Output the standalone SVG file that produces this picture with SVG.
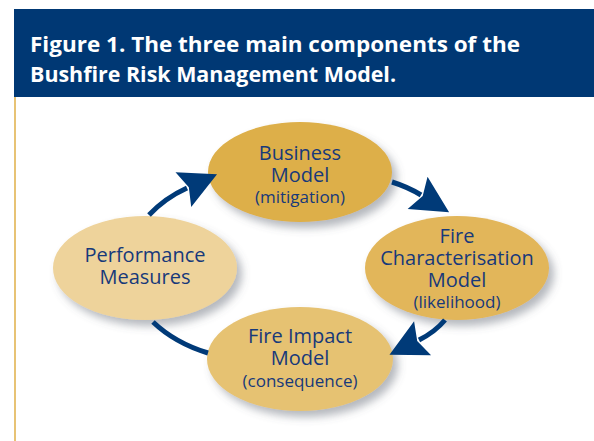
<svg xmlns="http://www.w3.org/2000/svg" width="594" height="441" viewBox="0 0 594 441">
<style>
.t{font-family:"Open Sans","Liberation Sans",sans-serif;fill:#17397A;text-anchor:middle}
.m{font-size:20px}
.s{font-size:17px}
.h{font-family:"Open Sans","Liberation Sans",sans-serif;font-weight:bold;font-size:22px;fill:#ffffff}
.c{fill:none;stroke:#003A78;stroke-width:5}
</style>
<defs>
<filter id="sh" x="-20%" y="-20%" width="150%" height="150%">
<feDropShadow dx="5" dy="6" stdDeviation="4" flood-color="#5a6470" flood-opacity="0.45"/>
</filter>
<marker id="ah" markerUnits="userSpaceOnUse" markerWidth="46" markerHeight="46" viewBox="-4 -23 46 46" refX="4" refY="0" orient="auto">
<path d="M0,-19 L37,0 L0,19 L6,0 Z" fill="#003A78"/>
</marker>
</defs>
<rect width="594" height="441" fill="#ffffff"/>
<g id="header">
<rect x="14" y="9" width="580" height="88" fill="#003874"/>
<text class="h" x="30" y="52" textLength="490" lengthAdjust="spacingAndGlyphs">Figure 1. The three main components of the</text>
<text class="h" x="30" y="82" textLength="366" lengthAdjust="spacingAndGlyphs">Bushfire Risk Management Model.</text>
</g>
<line x1="15" y1="97" x2="15" y2="441" stroke="#E2B452" stroke-width="1.6"/>
<g id="business">
<ellipse cx="300" cy="172" rx="92" ry="50" fill="#DDAF48" filter="url(#sh)"/>
<text class="t m" x="300" y="160">Business</text>
<text class="t m" x="300" y="182">Model</text>
<text class="t s" x="300" y="203">(mitigation)</text>
</g>
<g id="fire-characterisation">
<ellipse cx="457" cy="268" rx="92" ry="52" fill="#E2B65A" filter="url(#sh)"/>
<text class="t m" x="457" y="243">Fire</text>
<text class="t m" x="457" y="265">Characterisation</text>
<text class="t m" x="457" y="287">Model</text>
<text class="t s" x="457" y="308">(likelihood)</text>
</g>
<g id="performance">
<ellipse cx="145" cy="268" rx="92" ry="52" fill="#EED39B" filter="url(#sh)"/>
<text class="t m" x="145" y="262">Performance</text>
<text class="t m" x="145" y="284">Measures</text>
</g>
<g id="fire-impact">
<ellipse cx="300" cy="359" rx="93" ry="52" fill="#E6C272" filter="url(#sh)"/>
<text class="t m" x="300" y="343">Fire Impact</text>
<text class="t m" x="300" y="365">Model</text>
<text class="t s" x="300" y="387">(consequence)</text>
</g>
<g id="connectors">
<path class="c" d="M149,215 Q165,198 187,188" marker-end="url(#ah)"/>
<path class="c" d="M392,182 Q408,187 421,195" marker-end="url(#ah)"/>
<path class="c" d="M445,320 Q435,332 419,340" marker-end="url(#ah)"/>
<path class="c" d="M153,322 Q175,343 208,353"/>
</g>
</svg>
